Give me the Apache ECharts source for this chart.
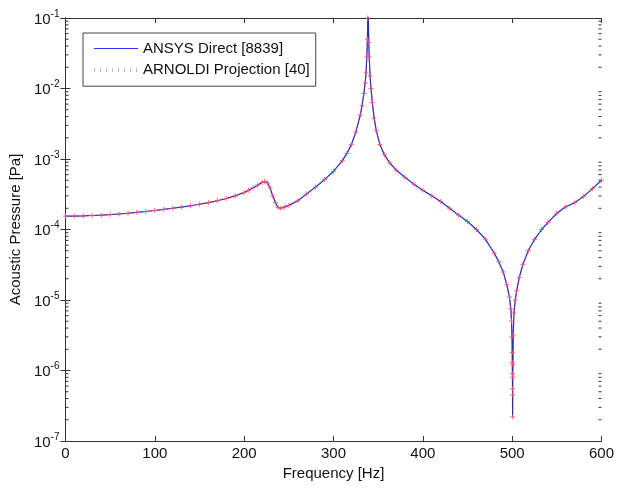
<!DOCTYPE html>
<html>
<head>
<meta charset="utf-8">
<script src="https://cdn.jsdelivr.net/npm/echarts@6/dist/echarts.min.js"></script>
<style>html,body{margin:0;padding:0;background:#fff}#c{width:617px;height:488px}</style>
</head>
<body>
<div id="c"></div>
<script>
// ---- data ----
const freqs = [0,10,20,30,40,50,60,70,80,90,100,110,120,130,140,150,160,170,180,190,200,205,210,215,220,223,226,229,232,235,238,241,245,250,260,270,280,290,300,310,315,320,325,330,332,334,335.5,336.5,337.3,338,338.4,338.7,339,339.5,340,341,342,343.5,345.5,348,352,357,363,370,380,390,400,410,420,430,440,450,460,470,480,485,490,494,497,498.5,499.3,499.8,500.1,500.2,500.3,500.4,500.5,500.6,500.7,500.8,501.2,502,503.5,505,508,512,518,525,533,540,550,560,570,580,590,600];
const ansysValues = [1.55e-4,1.55e-4,1.56e-4,1.58e-4,1.6e-4,1.63e-4,1.66e-4,1.7e-4,1.75e-4,1.8e-4,1.86e-4,1.93e-4,2.0e-4,2.08e-4,2.17e-4,2.28e-4,2.4e-4,2.56e-4,2.75e-4,3.0e-4,3.35e-4,3.6e-4,3.9e-4,4.25e-4,4.65e-4,4.8e-4,4.6e-4,3.9e-4,3.0e-4,2.4e-4,2.05e-4,2.0e-4,2.08e-4,2.2e-4,2.55e-4,3.2e-4,4.0e-4,5.1e-4,6.7e-4,9.5e-4,1.2e-3,1.6e-3,2.4e-3,4.2e-3,5.7e-3,8.5e-3,1.2e-2,1.7e-2,2.8e-2,5e-2,1e-1,2e-1,1.1e-1,4.5e-2,2.8e-2,1.5e-2,1.0e-2,6.3e-3,3.8e-3,2.5e-3,1.6e-3,1.15e-3,8.8e-4,7.0e-4,5.5e-4,4.4e-4,3.6e-4,3.0e-4,2.5e-4,2.0e-4,1.6e-4,1.3e-4,1.0e-4,7.3e-5,4.6e-5,3.5e-5,2.5e-5,1.65e-5,1.1e-5,7.5e-6,5e-6,3e-6,1.8e-6,1.3e-6,9e-7,5.5e-7,2.2e-7,4.5e-7,8e-7,1.2e-6,3.2e-6,6.5e-6,1.0e-5,1.35e-5,2.1e-5,3.2e-5,5e-5,7.2e-5,1.0e-4,1.25e-4,1.7e-4,2.1e-4,2.4e-4,2.95e-4,3.8e-4,5.0e-4];
const arnoldiValues = ansysValues.slice();
const seriesNames = ['ANSYS Direct [8839]', 'ARNOLDI Projection [40]'];
const xTicks = [0,100,200,300,400,500,600];
const yDecades = [-7,-6,-5,-4,-3,-2,-1];
const xTitle = 'Frequency [Hz]';
const yTitle = 'Acoustic Pressure [Pa]';

// ---- build ----
const minorTicks = [];
for (let k = yDecades[0]; k < yDecades[yDecades.length-1]; k++) {
  for (let m = 2; m <= 9; m++) minorTicks.push([0, m * Math.pow(10, k)]);
}
const FONT = 'Liberation Sans';
const AX = '#333';
const BLUE = '#3030ff';
const chart = echarts.init(document.getElementById('c'));
const xmin = xTicks[0], xmax = xTicks[xTicks.length-1];
const ymin = Math.pow(10, yDecades[0]), ymax = Math.pow(10, yDecades[yDecades.length-1]);
const axisCommon = {
  axisLine: {show: true, lineStyle: {color: AX, width: 1}},
  axisTick: {show: true, inside: true, length: 5, lineStyle: {color: AX}},
  splitLine: {show: false}
};
chart.setOption({
  backgroundColor: '#fff',
  animation: false,
  grid: {left: 65, right: 15, top: 18, bottom: 47},
  legend: {
    orient: 'vertical', left: 83, top: 33,
    data: [
      {name: seriesNames[0], itemStyle: {opacity: 0}, lineStyle: {color: BLUE, width: 1.2}},
      {name: seriesNames[1], itemStyle: {opacity: 0}, lineStyle: {color: '#aaa', width: 4, type: [1, 5]}}
    ],
    itemWidth: 44, itemHeight: 14, itemGap: 6,
    padding: [8, 6, 8, 9],
    backgroundColor: '#fff', borderColor: '#444', borderWidth: 1,
    textStyle: {fontFamily: FONT, fontSize: 15, color: '#111'}
  },
  xAxis: [
    Object.assign({type: 'value', min: xmin, max: xmax, interval: 100, position: 'bottom',
      name: xTitle, nameLocation: 'middle', nameGap: 19,
      nameTextStyle: {fontFamily: FONT, fontSize: 15, color: '#111'},
      axisLabel: {fontFamily: FONT, fontSize: 15, color: '#111', margin: 5}}, axisCommon),
    Object.assign({type: 'value', min: xmin, max: xmax, interval: 100, position: 'top',
      axisLabel: {show: false}}, axisCommon)
  ],
  yAxis: [
    Object.assign({type: 'log', logBase: 10, min: ymin, max: ymax, position: 'left',
      name: yTitle, nameLocation: 'middle', nameGap: 41,
      nameTextStyle: {fontFamily: FONT, fontSize: 15, color: '#111'},
      axisLabel: {
        margin: 6,
        formatter: function (v) { const e = Math.round(Math.log10(v)); return '{b|10}{e|' + e + '}'; },
        rich: {
          b: {fontFamily: FONT, fontSize: 15, color: '#111', verticalAlign: 'bottom'},
          e: {fontFamily: FONT, fontSize: 10, color: '#111', verticalAlign: 'bottom', padding: [0, 0, 8, 0]}
        }
      }}, axisCommon),
    Object.assign({type: 'log', logBase: 10, min: ymin, max: ymax, position: 'right',
      axisLabel: {show: false}}, axisCommon)
  ],
  series: [
    {
      name: seriesNames[0], type: 'line', xAxisIndex: 0, yAxisIndex: 0,
      data: freqs.map((f, i) => [f, ansysValues[i]]),
      symbol: 'none', clip: true,
      lineStyle: {color: BLUE, width: 1.2}, itemStyle: {color: BLUE}
    },
    {
      name: seriesNames[1], type: 'line', xAxisIndex: 0, yAxisIndex: 0,
      data: freqs.map((f, i) => [f, arnoldiValues[i]]),
      symbol: 'path://M0,5L10,5M5,0L5,10', symbolSize: 5, showAllSymbol: true, clip: true,
      lineStyle: {color: '#333', width: 1, type: 'dotted', opacity: 0.8},
      itemStyle: {color: 'none', borderColor: '#ff4a70', borderWidth: 1, opacity: 0.85}
    },
    {
      name: 'minor', type: 'custom', xAxisIndex: 0, yAxisIndex: 0, silent: true, clip: false,
      data: minorTicks,
      renderItem: function (params, api) {
        const v = api.value(1);
        const pL = api.coord([xmin, v]);
        const pR = api.coord([xmax, v]);
        return {type: 'group', children: [
          {type: 'line', shape: {x1: pL[0], y1: pL[1], x2: pL[0] + 3, y2: pL[1]}, style: {stroke: AX, lineWidth: 1}},
          {type: 'line', shape: {x1: pR[0] - 3, y1: pR[1], x2: pR[0], y2: pR[1]}, style: {stroke: AX, lineWidth: 1}}
        ]};
      }
    }
  ]
});
</script>
</body>
</html>
